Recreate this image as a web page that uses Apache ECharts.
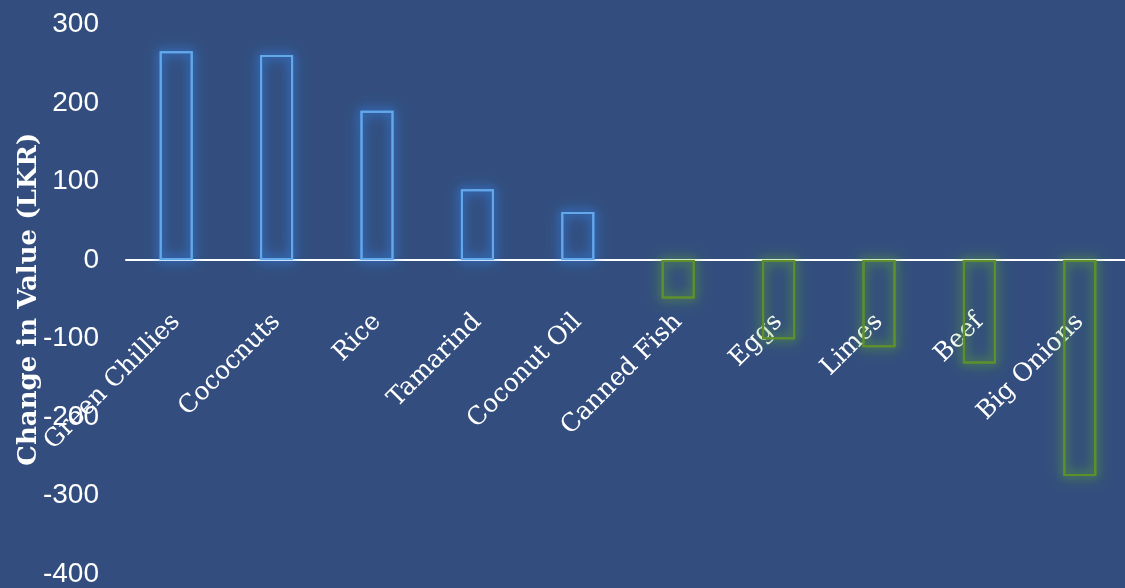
<!DOCTYPE html>
<html>
<head>
<meta charset="utf-8">
<script src="https://cdn.jsdelivr.net/npm/echarts@6/dist/echarts.min.js"></script>
<style>
html,body{margin:0;padding:0;background:#334e7e;}
#chart{width:1125px;height:588px;}
</style>
</head>
<body>
<div id="chart"></div>
<script>
var categories = ['Green Chillies','Cococnuts','Rice','Tamarind','Coconut Oil','Canned Fish','Eggs','Limes','Beef','Big Onions'];
var values = [266, 261, 190, 90, 61, -49, -101, -111, -132, -275];
var yTicks = { min: -400, max: 300, interval: 100 };
var axisName = 'Change in Value (LKR)';

var posColor = '#64a8ec';
var posGlow = 'rgba(55,145,250,1)';
var negColor = '#5f8f2c';
var negGlow = 'rgba(100,175,50,1)';

function makeData(blur) {
  return values.map(function (v) {
    var pos = v >= 0;
    return {
      value: v,
      itemStyle: {
        color: 'rgba(0,0,0,0)',
        borderColor: pos ? posColor : negColor,
        borderWidth: 2,
        shadowBlur: blur,
        shadowColor: pos ? posGlow : negGlow
      }
    };
  });
}

var chart = echarts.init(document.getElementById('chart'), null, {renderer:'canvas'});
chart.setOption({
  backgroundColor: '#334e7e',
  animation: false,
  grid: { left: 126, width: 1004, top: 24.5, height: 549.5, containLabel: false, outerBoundsMode: 'none' },
  xAxis: {
    type: 'category',
    data: categories,
    position: 'bottom',
    offset: -314,
    axisLine: { onZero: false, lineStyle: { color: '#ffffff', width: 2 } },
    axisTick: { show: false },
    axisLabel: {
      rotate: 45,
      margin: 58,
      color: '#ffffff',
      fontFamily: 'DejaVu Serif',
      fontSize: 25,
      interval: 0
    },
    splitLine: { show: false }
  },
  yAxis: {
    type: 'value',
    min: yTicks.min, max: yTicks.max, interval: yTicks.interval,
    name: axisName,
    nameLocation: 'middle',
    nameGap: 84,
    nameMoveOverlap: false,
    nameTextStyle: { color: '#ffffff', fontFamily: 'DejaVu Serif', fontWeight: 'bold', fontSize: 26 },
    axisLine: { show: false },
    axisTick: { show: false },
    splitLine: { show: false },
    axisLabel: { color: '#ffffff', fontFamily: 'Liberation Sans', fontSize: 28, margin: 27 }
  },
  series: [{
    type: 'bar',
    barWidth: 33,
    barGap: '-100%',
    silent: true,
    data: makeData(16)
  }, {
    type: 'bar',
    barWidth: 33,
    barGap: '-100%',
    data: makeData(10)
  }]
});
</script>
</body>
</html>
